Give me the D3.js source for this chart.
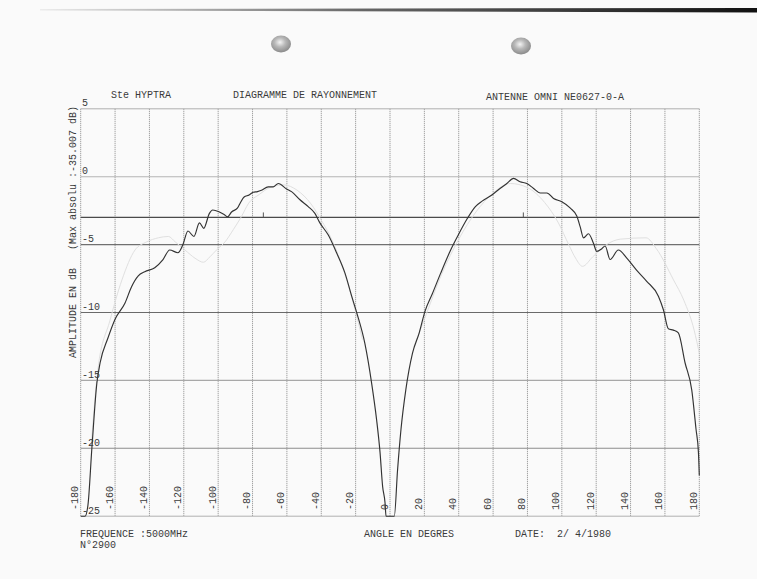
<!DOCTYPE html>
<html>
<head>
<meta charset="utf-8">
<script src="https://cdn.jsdelivr.net/npm/d3@7"></script>
<style>
  html, body { margin: 0; padding: 0; background: #fafafa; }
  svg { display: block; }
</style>
</head>
<body>
<svg id="chart" width="757" height="579"></svg>
<script>
// DATA SECTION

// main measured pattern (dark trace): angle in degrees, amplitude in dB
let mainAngles = [-180,-177.5,-175.8,-173.5,-170.6,-168.7,-164.2,-160,-154.2,-150.4,-146.5,-142.7,-136.9,-132.1,-128.2,-123.4,-120.5,-117.6,-114.1,-110.9,-108.4,-105.1,-103.2,-99.3,-96.4,-94.5,-92.2,-88.7,-87,-84.9,-82,-79.6,-77.1,-74.8,-70.9,-68,-65,-60.2,-57.3,-52.4,-47.6,-43.7,-40.8,-35.9,-31.1,-26.2,-22.3,-19.4,-14.6,-10.7,-7.8,-5.8,-4.3,-2.9,-2.3,0,2.5,4.4,6.4,9.2,13.1,17,20.4,24.7,29.5,35.3,40.1,44.9,49.7,53.6,59.3,64.2,68,71.9,75.7,79.6,83.4,87.5,91.3,95.2,100,104.8,108.7,110.7,112.6,115.5,118.4,120.3,123.3,125.2,128.1,132.9,137.8,143.6,149.4,156.2,159.1,162,164.9,167.8,171.7,175.6,178.1,179.5,180];
let mainDb = [-28,-25,-24.2,-20,-15.2,-13.7,-11.9,-10.5,-9.3,-8.1,-7.3,-7.0,-6.7,-6.1,-5.4,-5.6,-5.0,-4.0,-4.4,-3.4,-3.8,-2.7,-2.45,-2.6,-2.8,-2.95,-2.6,-2.3,-1.9,-1.5,-1.35,-1.15,-1.1,-1.0,-0.75,-0.75,-0.5,-0.9,-1.1,-1.7,-2.2,-2.7,-3.4,-4.3,-5.6,-7.1,-8.8,-10.0,-12.3,-15.2,-17.9,-20.3,-22.8,-24.0,-25,-30,-25,-21.6,-18.6,-15.7,-13.0,-11.5,-9.9,-8.6,-7.1,-5.4,-4.2,-3.1,-2.2,-1.8,-1.35,-0.85,-0.5,-0.12,-0.37,-0.5,-0.85,-1.2,-1.2,-1.6,-1.85,-2.3,-2.9,-3.7,-4.5,-4.2,-4.9,-5.5,-5.3,-5.1,-6.1,-5.4,-6.0,-6.9,-7.7,-8.8,-9.8,-11.2,-11.3,-11.5,-13.7,-15.7,-18.6,-20.3,-22];

// faint second trace (left lobe and right lobe)
let faintLeftAngles = [-174,-170,-163,-156,-148.4,-141.6,-134.8,-129,-125,-119.3,-113.5,-108.6,-104.8,-101,-96,-91.2,-86.3,-82.5,-76,-70,-62,-54,-46,-40,-34,-28,-22,-16];
let faintLeftDb = [-20,-14.2,-10.6,-7.6,-5.4,-4.8,-4.5,-4.4,-4.8,-5.4,-6.0,-6.3,-5.9,-5.4,-4.8,-3.9,-2.9,-2.0,-1.3,-0.8,-0.6,-1.0,-2.0,-3.2,-4.6,-6.5,-9,-12];
let faintRightAngles = [14,20,30,40,50,60,70,80,90,98,104,108,112,118,126,134,149,155,165,171,177,180];
let faintRightDb = [-12.5,-10.5,-7.2,-4.6,-2.6,-1.2,-0.5,-0.8,-1.9,-3.4,-5.0,-6.0,-6.6,-5.9,-5.0,-4.6,-4.5,-5.3,-7.6,-9.1,-11.3,-13];

// axes
let xTicks = d3.range(-180, 181, 20);
let yTicks = [5, 0, -5, -10, -15, -20, -25];
let refLines = [0, -3, -5, -10, -15, -20];
let markAngles = [-73.7, 77.6];

let zip = (a, b) => a.map((v, i) => ({deg: v, db: b[i]}));
let mainData = zip(mainAngles, mainDb);
let faintLeft = zip(faintLeftAngles, faintLeftDb);
let faintRight = zip(faintRightAngles, faintRightDb);

// RENDER SECTION

let svg = d3.select('#chart');
let font = '"Liberation Mono", "DejaVu Sans Mono", monospace';
let ink = '#3a3a3a';

// paper edge shadow and punch holes
let defs = svg.append('defs');
let grad = defs.append('linearGradient').attr('id', 'edge');
grad.append('stop').attr('offset', '0%').attr('stop-color', '#ececec');
grad.append('stop').attr('offset', '45%').attr('stop-color', '#666');
grad.append('stop').attr('offset', '100%').attr('stop-color', '#111');
svg.append('path')
  .attr('d', 'M40,9 L757,8 L757,12.5 L40,10.5 Z')
  .attr('fill', 'url(#edge)');

let hole = defs.append('radialGradient').attr('id', 'hole')
  .attr('cx', '45%').attr('cy', '40%').attr('r', '60%');
hole.append('stop').attr('offset', '0%').attr('stop-color', '#f4f4f4');
hole.append('stop').attr('offset', '45%').attr('stop-color', '#b8b8b8');
hole.append('stop').attr('offset', '100%').attr('stop-color', '#8a8a8a');
[[281, 44], [521, 46]].forEach(function(p) {
  svg.append('ellipse')
    .attr('cx', p[0]).attr('cy', p[1])
    .attr('rx', 10).attr('ry', 8.5)
    .attr('fill', 'url(#hole)');
});

// scales
let x = d3.scaleLinear().domain([-180, 180]).range([80.7, 699.3]);
let y = d3.scaleLinear().domain([-25, 5]).range([516.2, 108.8]).clamp(true);

// vertical grid (dotted)
svg.append('g')
  .attr('class', 'x-grid')
  .selectAll('line')
  .data(xTicks)
  .enter().append('line')
  .attr('x1', d => x(d)).attr('x2', d => x(d))
  .attr('y1', y(5)).attr('y2', y(-25))
  .attr('stroke', '#8a8a8a')
  .attr('stroke-width', 1)
  .attr('stroke-dasharray', '1,1');

// top and bottom frame
svg.append('g')
  .selectAll('line')
  .data([5, -25])
  .enter().append('line')
  .attr('x1', x(-180)).attr('x2', x(180))
  .attr('y1', d => y(d)).attr('y2', d => y(d))
  .attr('stroke', '#b0b0b0')
  .attr('stroke-width', 1);

// horizontal reference lines
let refColor = {'0': '#b4b4b4', '-3': '#4a4a4a', '-5': '#707070', '-10': '#6a6a6a', '-15': '#a8a8a8', '-20': '#8c8c8c'};
svg.append('g')
  .attr('class', 'y-grid')
  .selectAll('line')
  .data(refLines)
  .enter().append('line')
  .attr('x1', x(-180)).attr('x2', x(180))
  .attr('y1', d => y(d)).attr('y2', d => y(d))
  .attr('stroke', d => refColor[d])
  .attr('stroke-width', d => d === -3 ? 1.3 : 1.1);

// small marks on the -3 dB line
svg.append('g')
  .selectAll('line')
  .data(markAngles)
  .enter().append('line')
  .attr('x1', d => x(d)).attr('x2', d => x(d))
  .attr('y1', y(-3)).attr('y2', y(-3) - 5)
  .attr('stroke', '#555')
  .attr('stroke-width', 1);

// traces
let line = d3.line().x(d => x(d.deg)).y(d => y(d.db)).curve(d3.curveMonotoneX);
[faintLeft, faintRight].forEach(function(dat) {
  svg.append('path')
    .datum(dat)
    .attr('d', line)
    .attr('fill', 'none')
    .attr('stroke', '#e0e0e0')
    .attr('stroke-width', 1);
});
svg.append('path')
  .datum(mainData)
  .attr('d', line)
  .attr('fill', 'none')
  .attr('stroke', '#333')
  .attr('stroke-width', 1.15)
  .attr('stroke-linejoin', 'round');

// y tick labels, sitting on their lines
svg.append('g')
  .attr('class', 'y-labels')
  .selectAll('text')
  .data(yTicks)
  .enter().append('text')
  .attr('x', 82)
  .attr('y', d => y(d) - 2.5)
  .attr('font-family', font)
  .attr('font-size', 10)
  .attr('fill', ink)
  .text(d => d);

// x tick labels, rotated
svg.append('g')
  .attr('class', 'x-labels')
  .selectAll('text')
  .data(xTicks)
  .enter().append('text')
  .attr('transform', d => `translate(${x(d) - 2.5},510) rotate(-90)`)
  .attr('font-family', font)
  .attr('font-size', 10)
  .attr('fill', ink)
  .text(d => d);

// texts
let texts = [
  {t: 'Ste HYPTRA', x: 111, y: 98},
  {t: 'DIAGRAMME DE RAYONNEMENT', x: 233, y: 98},
  {t: 'ANTENNE OMNI NE0627-0-A', x: 486, y: 100},
  {t: 'FREQUENCE :5000MHz', x: 80, y: 537},
  {t: 'N°2900', x: 80, y: 548},
  {t: 'ANGLE EN DEGRES', x: 364, y: 537},
  {t: 'DATE:  2/ 4/1980', x: 515, y: 537}
];
svg.append('g')
  .selectAll('text')
  .data(texts)
  .enter().append('text')
  .attr('x', d => d.x)
  .attr('y', d => d.y)
  .attr('font-family', font)
  .attr('font-size', 10)
  .attr('fill', ink)
  .style('white-space', 'pre')
  .text(d => d.t);

svg.append('text')
  .attr('transform', 'translate(76,358) rotate(-90)')
  .attr('font-family', font)
  .attr('font-size', 10)
  .attr('fill', ink)
  .style('white-space', 'pre')
  .text('AMPLITUDE EN dB   (Max absolu :-35.007 dB)');
</script>
</body>
</html>
